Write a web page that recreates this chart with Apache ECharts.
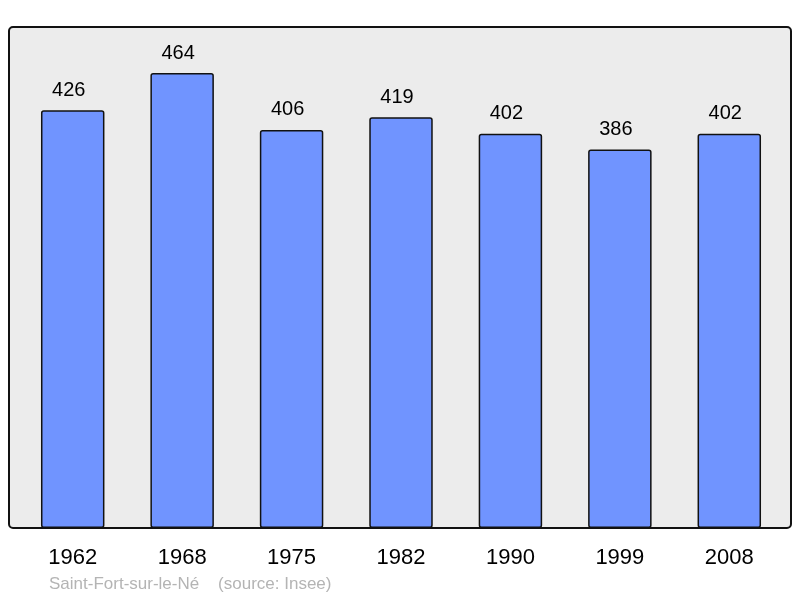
<!DOCTYPE html>
<html><head><meta charset="utf-8">
<script src="https://cdn.jsdelivr.net/npm/echarts@6/dist/echarts.min.js"></script>
<style>html,body{margin:0;padding:0;background:#fff}#c{width:800px;height:598px}</style>
</head><body><div id="c"></div>
<script>
const years = ['1962','1968','1975','1982','1990','1999','2008'];
const population = [426,464,406,419,402,386,402];
const footer = 'Saint-Fort-sur-le-Né    (source: Insee)';

const chart = echarts.init(document.getElementById('c'));
chart.setOption({
  animation: false,
  backgroundColor: '#ffffff',
  textStyle: {fontFamily: 'Liberation Sans, Arial, sans-serif'},
  grid: {left: 18, right: 16, top: 27, bottom: 70},
  graphic: [
    {type: 'rect', z: -10, shape: {x: 9, y: 27, width: 782, height: 501, r: 4},
     style: {fill: '#ececec', stroke: '#111111', lineWidth: 2}},
    {type: 'text', left: 49, top: 576,
     style: {text: footer, fill: '#b4b4b4', font: '17px "Liberation Sans", Arial, sans-serif'}}
  ],
  xAxis: {
    type: 'category', data: years,
    axisLine: {show: false}, axisTick: {show: false},
    axisLabel: {color: '#000', fontSize: 22, margin: 19}
  },
  yAxis: {type: 'value', min: 0, max: 511, show: false, splitLine: {show: false}},
  series: [{
    type: 'bar', data: population, barCategoryGap: '42%',
    itemStyle: {color: '#7094ff', borderColor: '#111111', borderWidth: 1.5, borderRadius: 2},
    label: {show: true, position: 'top', distance: 10, offset: [-4, 0], color: '#000', fontSize: 20}
  }]
});
</script></body></html>
